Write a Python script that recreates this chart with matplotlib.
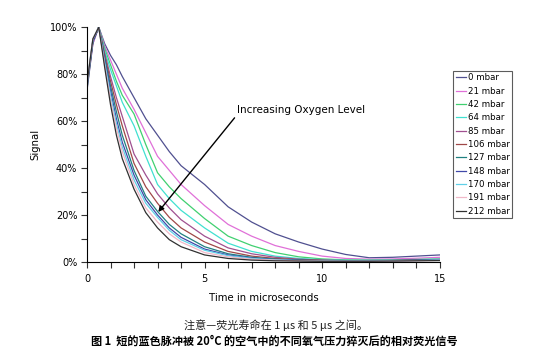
import numpy as np
import matplotlib
matplotlib.use("Agg")
import matplotlib.pyplot as plt
from matplotlib.ticker import MultipleLocator, PercentFormatter

# time axis (microseconds) and normalised signal (%) for each O2 pressure
t = [0, 0.25, 0.5, 0.75, 1, 1.25, 1.5, 2, 2.5, 3, 3.5, 4, 5, 6, 7, 8, 9, 10, 11, 12, 13, 14, 15]

labels = ['0 mbar', '21 mbar', '42 mbar', '64 mbar', '85 mbar', '106 mbar',
          '127 mbar', '148 mbar', '170 mbar', '191 mbar', '212 mbar']

s0   = [73, 93, 100, 93, 88, 84, 79, 70, 61, 54, 47, 41, 33, 23.5, 17, 12, 8.5, 5.5, 3.2, 1.8, 2, 2.5, 3]
s21  = [74, 93, 100, 92, 86, 80, 74, 65, 55, 45, 39, 33, 24, 16, 11, 7, 4.5, 2.5, 1.5, 1.2, 1.3, 1.6, 2]
s42  = [74, 94, 100, 91, 84, 77, 71, 63, 50, 38, 32, 27, 18.5, 11, 7, 4, 2.2, 1.3, 0.9, 0.8, 0.9, 1.1, 1.3]
s64  = [74, 94, 100, 90, 82, 75, 68, 58, 45, 33, 27, 22, 14.5, 8, 4.5, 2.5, 1.5, 1, 0.7, 0.7, 0.8, 1, 1.2]
s85  = [74, 94, 100, 89, 79, 70, 62, 46, 37, 29, 23, 18, 11, 6, 3.5, 2, 1.2, 0.8, 0.6, 0.6, 0.7, 0.9, 1.1]
s106 = [75, 94, 100, 88, 77, 67, 58, 42, 32, 25, 19, 14.5, 8.5, 4.5, 2.5, 1.5, 1, 0.7, 0.5, 0.5, 0.6, 0.8, 1]
s127 = [75, 94, 100, 87, 75, 64, 54, 39, 28, 21.5, 16, 12, 6.5, 3.5, 2, 1.2, 0.8, 0.6, 0.5, 0.5, 0.6, 0.8, 1]
s148 = [75, 94, 100, 86, 73, 61, 51, 37, 26.5, 20, 14.5, 10.5, 5.5, 3, 1.7, 1, 0.7, 0.5, 0.4, 0.4, 0.5, 0.7, 0.9]
s170 = [76, 95, 100, 85, 71, 59, 49, 35, 25, 19, 13.5, 9.5, 5, 2.7, 1.5, 0.9, 0.6, 0.5, 0.4, 0.4, 0.5, 0.6, 0.8]
s191 = [76, 95, 100, 84, 69, 57, 47, 33, 23, 17, 12, 8.5, 4, 2.2, 1.2, 0.8, 0.5, 0.4, 0.3, 0.3, 0.4, 0.5, 0.7]
s212 = [76, 95, 100, 83, 67, 54, 44, 31, 21, 14.5, 9.5, 6.5, 3, 1.5, 0.8, 0.5, 0.4, 0.3, 0.3, 0.3, 0.4, 0.5, 0.6]

series = [s0, s21, s42, s64, s85, s106, s127, s148, s170, s191, s212]
colours = ['#505090', '#e070d8', '#40d070', '#40e0d0', '#a05090', '#a04848',
           '#208080', '#4048a8', '#60d0e8', '#f0b8c8', '#303030']

plt.rcParams['font.family'] = ['DejaVu Sans']

fig = plt.figure(figsize=(5.37, 3.51), dpi=100)
ax = fig.add_axes([0.162, 0.2536, 0.657, 0.669])

for y, c, lab in zip(series, colours, labels):
    ax.plot(t, y, color=c, lw=0.9, label=lab)

ax.set_xlim(0, 15)
ax.set_ylim(0, 100)
ax.xaxis.set_major_locator(MultipleLocator(5))
ax.xaxis.set_minor_locator(MultipleLocator(1))
ax.yaxis.set_major_locator(MultipleLocator(20))
ax.yaxis.set_minor_locator(MultipleLocator(10))
ax.yaxis.set_major_formatter(PercentFormatter(decimals=0))
ax.tick_params(which='both', length=4, width=0.8, labelsize=7, color='#333333')
ax.tick_params(axis='y', pad=3)
ax.tick_params(axis='x', pad=5)
for side in ['top', 'right']:
    ax.spines[side].set_visible(False)
ax.spines['left'].set_linewidth(0.8)
ax.spines['bottom'].set_linewidth(0.8)

ax.set_xlabel('Time in microseconds', fontsize=7.3, labelpad=6)
ax.set_ylabel('Signal', fontsize=7.3, labelpad=7)

ax.annotate('Increasing Oxygen Level', xy=(3.03, 21.3), xytext=(6.37, 64.7),
            fontsize=7.5, va='center', ha='left',
            arrowprops=dict(arrowstyle='-|>', color='black', lw=1.0,
                            shrinkA=0, shrinkB=0, mutation_scale=8,
                            relpos=(0.0, 0.0)))

leg = fig.legend(loc='upper left', bbox_to_anchor=(0.8436, 0.798),
                 fontsize=6.2, frameon=True, fancybox=False, handlelength=1.2,
                 handletextpad=0.2, borderpad=0.3, labelspacing=0.5,
                 borderaxespad=0)
leg.get_frame().set_edgecolor('#333333')
leg.get_frame().set_linewidth(0.8)

cjk = ['Noto Sans CJK SC', 'DejaVu Sans']
fig.text(0.514, 0.074, '注意—荧光寿命在 1 μs 和 5 μs 之间。', ha='center', va='center',
         fontsize=8, family=cjk, color='#222222')
fig.text(0.511, 0.028, '图 1  短的蓝色脉冲被 20°C 的空气中的不同氧气压力猝灭后的相对荧光信号',
         ha='center', va='center', fontsize=8, family=cjk, weight='bold')

fig.savefig('out.png', dpi=100)
